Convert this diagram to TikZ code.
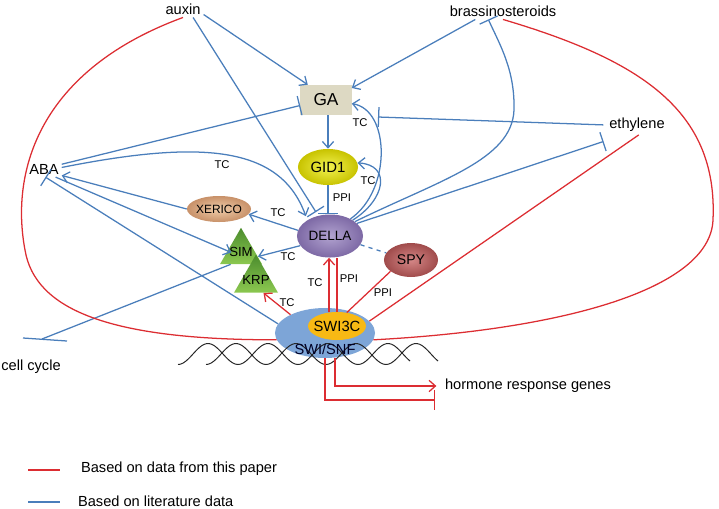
\documentclass[tikz,border=0pt]{standalone}
\usepackage{fontspec}
\setmainfont{Liberation Sans}
\usetikzlibrary{arrows.meta,positioning,shapes.geometric}

\definecolor{linkblue}{RGB}{74,126,187}
\definecolor{linkred}{RGB}{220,45,50}
\definecolor{gabox}{RGB}{221,217,195}
\definecolor{gidin}{RGB}{242,242,80}
\definecolor{gidout}{RGB}{200,195,0}
\definecolor{dellain}{RGB}{178,163,208}
\definecolor{dellaout}{RGB}{125,105,165}
\definecolor{xerin}{RGB}{240,205,170}
\definecolor{xerout}{RGB}{200,145,105}
\definecolor{spyin}{RGB}{212,135,135}
\definecolor{spyout}{RGB}{160,75,75}
\definecolor{simtop}{RGB}{75,140,45}
\definecolor{simbot}{RGB}{140,200,80}
\definecolor{snfblue}{RGB}{125,165,215}
\definecolor{swiorange}{RGB}{248,185,20}

\begin{document}
\begin{tikzpicture}[x=0.025cm,y=-0.025cm,
    >={Straight Barb[length=4.5pt,width=8pt]},
    blueline/.style={draw=linkblue,line width=0.9pt},
    redline/.style={draw=linkred,line width=0.9pt},
    inhib/.style={-{Bar[width=14pt]}},
    helix/.style={draw=black!85,line width=0.7pt},
    word/.style={font=\fontsize{10.4}{12}\selectfont,inner sep=2pt},
    lbl/.style={font=\fontsize{8}{9}\selectfont,inner sep=1pt},
    blob/.style={ellipse,inner sep=0pt},
    tri/.style={regular polygon,regular polygon sides=3,inner sep=0pt,
      top color=simtop,bottom color=simbot,font=\fontsize{9.4}{10}\selectfont}]
  \useasboundingbox (0,0) rectangle (719,508);

  \node[word] (auxin) at (183,9) {auxin};
  \node[word] (brass) at (503,11) {brassinosteroids};
  \node[word] (aba) at (44,169) {ABA};
  \node[word] (ethylene) at (637,125) {ethylene};
  \node[word] (cell_cycle) at (31,367) {cell cycle};
  \node[word] (genes) at (528,386) {hormone response genes};

  \node[fill=gabox,minimum width=1.275cm,minimum height=0.75cm,
    font=\fontsize{12.3}{14}\selectfont] (ga) at (326,100) {GA};
  \node[blob,inner color=gidin,outer color=gidout,minimum width=1.5cm,
    minimum height=0.9cm,font=\fontsize{10.6}{12}\selectfont] (gid) at (328,167) {GID1};
  \node[blob,inner color=dellain,outer color=dellaout,minimum width=1.65cm,
    minimum height=1.075cm,font=\fontsize{9.6}{11}\selectfont] (della) at (330,236) {DELLA};
  \node[blob,inner color=xerin,outer color=xerout,minimum width=1.6cm,
    minimum height=0.65cm,font=\fontsize{8.5}{10}\selectfont] (xerico) at (219,209) {\makebox[0pt]{XERICO}};
  \node[blob,inner color=spyin,outer color=spyout,minimum width=1.35cm,
    minimum height=0.85cm,font=\fontsize{10}{12}\selectfont] (spy) at (411,260) {SPY};
  \node[tri,minimum size=1.21cm] (sim) at (241,252) {\makebox[0pt]{SIM}};
  \node[tri,minimum size=1.27cm] (krp) at (256,280) {\makebox[0pt]{KRP}};

  \node[blob,fill=snfblue,minimum width=2.5cm,minimum height=1.25cm] (swi_snf) at (325,333) {};
  \draw[helix] plot[domain=178:410,samples=90,smooth] (\x,{354+10.5*cos((\x-178)/60*360)});
  \draw[helix] plot[domain=206:438,samples=90,smooth] (\x,{354+10.5*cos((\x-206)/60*360)});
  \node[word,text=black!85!blue] (snf_text) at (325,349) {SWI/SNF};
  \node[blob,fill=swiorange,minimum width=1.45cm,minimum height=0.7cm,
    font=\fontsize{10.5}{12}\selectfont] (swi_3c) at (337,326) {\makebox[0pt]{SWI3C}};

  \coordinate (ga_bar) at (378,117);
  \coordinate (cycle_bar) at (42,339);

  \draw[blueline,->] (auxin.-15) -- (ga.140);
  \draw[blueline,inhib,shorten >=3pt] (auxin.-40) -- (della.120);
  \draw[blueline,->] (brass.-163) -- (ga.25);
  \draw[blueline,->] (ga.south -| gid.north) -- (gid.north);
  \draw[blueline,inhib] (gid.south) -- (gid.south |- della.north);
  \draw[blueline,inhib] (aba.15) -- (ga.-168);
  \draw[blueline,->,shorten >=3pt] (aba.5) .. controls (200,140) and (280,145) .. (della.145);
  \draw[blueline,->] (xerico.west) -- (aba.-20);
  \draw[blueline,->,shorten >=-3pt] (aba.-35) -- (sim.175);
  \draw[blueline,inhib] (swi_snf.169) -- (aba.-80);
  \draw[blueline,->] (della.170) -- (xerico.-10);
  \draw[blueline,->] (della.198) -- (sim.-15);
  \draw[blueline,->] (della.35) .. controls (385,200) and (392,165) .. (gid.8);
  \draw[blueline,->] (della.40) .. controls (392,190) and (390,110) .. (ga.-8);
  \draw[blueline,inhib] (della.30) .. controls (440,180) and (512,160) .. (514,110)
    .. controls (515,70) and (500,45) .. (brass.-150);
  \draw[blueline,inhib,shorten >=2pt] (della.25) -- ([yshift=-4pt]ethylene.south west);
  \draw[blueline,inhib,shorten <=2pt] (ethylene.west) -- (ga_bar);
  \draw[blueline,dashed] (della.-16) -- (spy.164);
  \draw[blueline] (sim.-130) -- (cycle_bar);
  \draw[blueline] (cycle_bar) ++(-19,-1) -- ++(44,3);

  \draw[redline] (auxin.south) .. controls (40,70) and (10,170) .. (25,250)
    .. controls (35,310) and (110,340) .. (swi_snf.188);
  \draw[redline] (brass.south) .. controls (640,60) and (718,110) .. (713,220)
    .. controls (710,290) and (560,330) .. (swi_snf.-8);
  \draw[redline] (ethylene.-80) -- (swi_snf.15);
  \draw[redline] (spy.209) -- (swi_3c.54);
  \draw[redline,->] (swi_3c.120) -- (swi_3c.120 |- della.south);
  \draw[redline] (swi_3c.north) -- (swi_3c.north |- della.south);
  \draw[redline,->] (swi_snf.152) -- (krp.-60);
  \draw[redline,->,shorten >=4pt] (swi_snf.-68) |- (genes.west);
  \draw[redline,inhib] (swi_snf.south) |- ([xshift=-5pt,yshift=-10pt]genes.west);

  \node[lbl] (tc_aba) at (222,165) {TC};
  \node[lbl] (tc_ga) at (360,123) {TC};
  \node[lbl] (tc_gid) at (368,181) {TC};
  \node[lbl] (ppi_gid) at (342,198) {PPI};
  \node[lbl] (tc_xerico) at (278,213) {TC};
  \node[lbl] (tc_sim) at (288,257) {TC};
  \node[lbl] (tc_krp) at (287,303) {TC};
  \node[lbl] (tc_della) at (315,283) {TC};
  \node[lbl] (ppi_della) at (349,279) {PPI};
  \node[lbl] (ppi_spy) at (383,293) {PPI};

  \draw[redline,line width=1.4pt] (28,470) -- (60,470);
  \node[word,anchor=west] (leg_red) at (78,469) {Based on data from this paper};
  \draw[blueline,line width=1.4pt] (28,502) -- (60,502);
  \node[word,anchor=west] (leg_blue) at (75,501) {Based on literature data};
\end{tikzpicture}
\end{document}
